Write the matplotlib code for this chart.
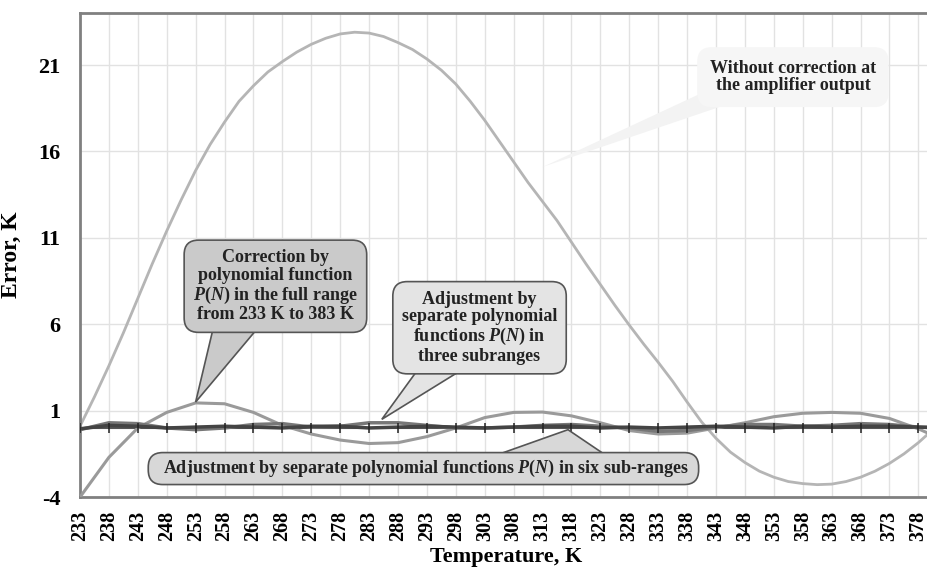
import matplotlib
matplotlib.use("Agg")
import matplotlib.pyplot as plt
import numpy as np

plt.rcParams['font.family'] = ['Liberation Serif', 'DejaVu Serif']
plt.rcParams['font.weight'] = 'bold'
plt.rcParams['mathtext.fontset'] = 'custom'
plt.rcParams['mathtext.it'] = 'Liberation Serif:bold:italic'
plt.rcParams['mathtext.rm'] = 'Liberation Serif:bold'

# temperatures, K (every 5 K)
temps = [233, 238, 243, 248, 253, 258, 263, 268, 273, 278, 283, 288, 293, 298, 303,
         308, 313, 318, 323, 328, 333, 338, 343, 348, 353, 358, 363, 368, 373, 378, 383]

# error without correction at the amplifier output, read every 2.5 K
temps_raw = [233, 235.5, 238, 240.5, 243, 245.5, 248, 250.5, 253, 255.5, 258, 260.5, 263, 265.5,
             268, 270.5, 273, 275.5, 278, 280.5, 283, 285.5, 288, 290.5, 293, 295.5, 298, 300.5,
             303, 305.5, 308, 310.5, 313, 315.5, 318, 320.5, 323, 325.5, 328, 330.5, 333, 335.5,
             338, 340.5, 343, 345.5, 348, 350.5, 353, 355.5, 358, 360.5, 363, 365.5, 368, 370.5,
             373, 375.5, 378, 380.5, 383]
err_raw = [0.1, 1.8, 3.6, 5.5, 7.5, 9.5, 11.4, 13.2, 14.9, 16.4, 17.7, 18.9, 19.8, 20.6,
           21.2, 21.75, 22.2, 22.55, 22.8, 22.9, 22.85, 22.65, 22.3, 21.9, 21.35, 20.7, 19.9, 18.9,
           17.8, 16.6, 15.4, 14.2, 13.1, 12.0, 10.75, 9.5, 8.3, 7.1, 5.95, 4.85, 3.8, 2.7,
           1.5, 0.35, -0.6, -1.4, -2.0, -2.5, -2.85, -3.1, -3.22, -3.28, -3.25, -3.1, -2.85, -2.5,
           -2.05, -1.5, -0.85, -0.1, 0.7]

# correction by one polynomial in the full range
err_full = [-4.0, -1.7, 0.0, 0.9, 1.45, 1.4, 0.9, 0.15, -0.35, -0.7, -0.9, -0.85, -0.5, 0.0, 0.6,
            0.9, 0.92, 0.7, 0.3, -0.15, -0.35, -0.3, 0.0, 0.3, 0.65, 0.85, 0.9, 0.85, 0.55, -0.05, -0.8]

# three subranges
err_three = [-0.1, 0.3, 0.25, 0.0, -0.1, 0.0, 0.2, 0.25, 0.05, 0.1, 0.3, 0.3, 0.15, 0.0, 0.0,
             0.05, 0.15, 0.2, 0.1, 0.0, -0.2, -0.15, 0.05, 0.2, 0.2, 0.1, 0.15, 0.25, 0.2, 0.05, 0.0]

# six subranges
err_six = [-0.05, 0.15, 0.1, 0.0, 0.05, 0.1, 0.05, 0.0, 0.1, 0.1, 0.0, 0.05, 0.1, 0.05, 0.0,
           0.05, 0.1, 0.1, 0.0, 0.05, 0.0, 0.05, 0.1, 0.05, 0.0, 0.1, 0.05, 0.1, 0.1, 0.05, 0.0]

xticks = temps[:-1]
yticks = [-4, 1, 6, 11, 16, 21]

fig = plt.figure(figsize=(9.27, 5.74), dpi=100)
ax = fig.add_axes([0.0863, 0.134, 0.92, 0.843])

ax.set_xlim(233, 380.5)
ax.set_ylim(-4, 24)
ax.set_xticks(xticks)
ax.set_xticklabels([str(t) for t in xticks], rotation=90, fontsize=14.5)
ax.set_yticks(yticks)
ax.set_yticklabels([str(t) for t in yticks], fontsize=16)
ax.tick_params(axis='both', length=0, pad=10)
ax.tick_params(axis='y', pad=14)
ax.grid(True, color='#e2e2e2', linewidth=1)
ax.set_axisbelow(True)
for side in ['left', 'bottom', 'top']:
    ax.spines[side].set_color('#808080')
    ax.spines[side].set_linewidth(2)
ax.spines['right'].set_visible(False)

# category axis crossing at zero
ax.axhline(0, color='#555555', linewidth=1.5, zorder=1)
ax.scatter(xticks, np.zeros(len(xticks)), marker='|', s=50, color='#222222', linewidths=1.1, zorder=5)

ax.plot(temps_raw, err_raw, color='#b5b5b5', linewidth=2, zorder=2)
ax.plot(temps, err_full, color='#9a9a9a', linewidth=2.2, zorder=3)
ax.plot(temps, err_three, color='#777777', linewidth=2.5, zorder=3)
ax.plot(temps, err_six, color='#444444', linewidth=2.5, zorder=4)

ax.set_xlabel('Temperature, K', fontsize=16, fontweight='bold', labelpad=4)
ax.set_ylabel('Error, K', fontsize=17, fontweight='bold', labelpad=12)


def callout(text, center, fc, pointer, ec='#555555', pad=0.5, pfc=None, pec=None):
    # pointer triangle first, box drawn over its base
    ax.fill([p[0] for p in pointer], [p[1] for p in pointer],
            fc=pfc or fc, ec=pec or ec, lw=1.2, zorder=6, joinstyle='miter')
    ax.text(center[0], center[1], text, ha='center', va='center', fontsize=13,
            linespacing=1.05, color='#222222', zorder=7,
            bbox=dict(boxstyle='round,pad=%s,rounding_size=0.8' % pad, fc=fc, ec=ec, lw=1.2))


callout('Correction by\npolynomial function\n$\\mathit{P(N)}$ in the full range\nfrom 233 K to 383 K',
        (266.8, 8.2), '#cacaca', [(256.2, 6.0), (264.3, 6.0), (253, 1.5)])

callout('Adjustment by\nseparate polynomial\nfunctions $\\mathit{P(N)}$ in\nthree subranges',
        (302.1, 5.8), '#e4e4e4', [(291.7, 3.5), (299.7, 3.5), (285.2, 0.5)])

callout('  Adjustment by separate polynomial functions $\\mathit{P(N)}$ in six sub-ranges  ',
        (292.4, -2.35), '#d8d8d8', [(301.4, -2.0), (325.8, -2.0), (317.4, -0.1)], pad=0.3)

callout('Without correction at\nthe amplifier output',
        (356.3, 20.3), '#f6f6f6', [(340.0, 19.3), (350.0, 19.3), (313.0, 15.1)],
        ec='none', pad=0.7, pfc='#f3f3f3', pec='none')

fig.savefig('out.png', dpi=100)
